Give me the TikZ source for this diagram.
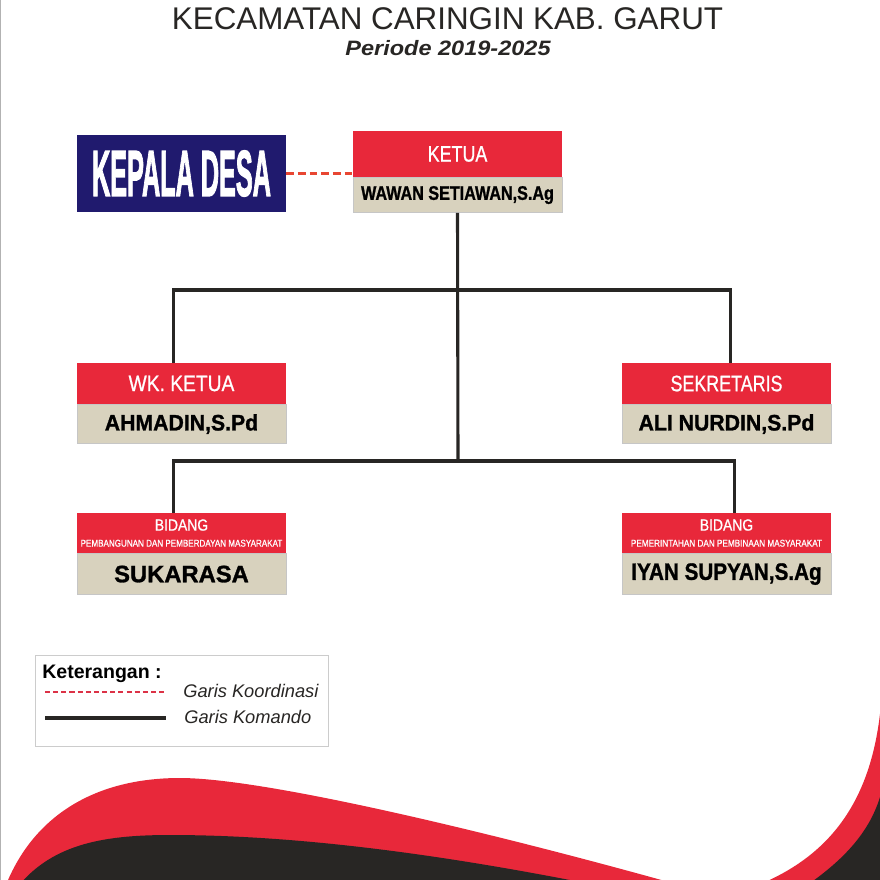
\documentclass[tikz,border=0pt]{standalone}
\usepackage{graphicx}
\usepackage{fontspec}
\setmainfont{Liberation Sans}
\newfontfamily\tebal{Liberation Sans}[BoldFeatures={FakeBold=2.5}]
\newfontfamily\berat{Liberation Sans}[BoldFeatures={FakeBold=1.2}]
\newfontfamily\sedang{Liberation Sans}[FakeBold=0.9]
\usetikzlibrary{positioning}

\definecolor{merah}{HTML}{E8283A}
\definecolor{krem}{HTML}{D8D2BE}
\definecolor{biru}{HTML}{201A6E}
\definecolor{hitam}{HTML}{282624}
\definecolor{oranye}{HTML}{E84632}
\definecolor{garis}{HTML}{DC3246}

\newcommand\cond[2][0.84]{\scalebox{#1}[1]{#2}}

\tikzset{
  jabatan/.style={fill=merah, text=white, minimum width=5.225cm, minimum height=1.025cm, inner sep=0pt,
    font=\fontsize{15.9}{18}\selectfont\sedang},
  nama/.style={fill=krem, draw=gray!45, line width=0.4pt, minimum width=5.225cm, minimum height=0.975cm, inner sep=0pt,
    font=\fontsize{15.9}{18}\selectfont\berat\bfseries, text=black},
  komando/.style={draw=hitam, line width=2.2pt},
  koordinasi/.style={draw=oranye, line width=2.2pt, dash pattern=on 5.5pt off 2.8pt},
}

\begin{document}
\begin{tikzpicture}[x=0.025cm, y=-0.025cm]
\useasboundingbox (0,0) rectangle (880,880);
\fill[white] (0,0) rectangle (880,880);
\draw[gray!60, line width=0.8pt] (0.5,0) -- (0.5,880);

% judul
\node[anchor=base, font=\fontsize{22.3}{24}\selectfont, text=hitam] (judul) at (447.5,29.5) {KECAMATAN CARINGIN KAB. GARUT};
\node[anchor=base, font=\fontsize{14.8}{16}\selectfont\bfseries\itshape, text=hitam] (periode) at (448,55.5) {\cond[1.13]{Periode 2019-2025}};

% kotak
\node[fill=biru, text=white, minimum width=5.225cm, minimum height=1.925cm, inner sep=0pt,
  font=\fontsize{46}{50}\selectfont\tebal\bfseries] (kades) at (181.5,173.5) {\cond[0.39]{KEPALA DESA}};

\node[jabatan, minimum height=1.15cm] (ketuaJab) at (457.5,154) {\cond[0.8]{KETUA}};
\node[nama, minimum height=0.875cm, below=0pt of ketuaJab, font=\fontsize{14}{16}\selectfont\berat\bfseries] (ketuaNama) {\cond[0.82]{WAWAN SETIAWAN,S.Ag}};

\node[jabatan] (wakilJab) at (181.5,383.5) {\cond[0.86]{WK. KETUA}};
\node[nama, below=0pt of wakilJab] (wakilNama) {\cond[0.95]{AHMADIN,S.Pd}};

\node[jabatan] (sekJab) at (726.5,383.5) {\cond[0.8]{SEKRETARIS}};
\node[nama, below=0pt of sekJab] (sekNama) {\cond[0.95]{ALI NURDIN,S.Pd}};

\node[jabatan, minimum height=1cm, align=center, font=\fontsize{7}{11.4}\selectfont\sedang] (bid1Jab) at (181.5,533)
  {\cond[0.86]{\fontsize{11.5}{12}\selectfont BIDANG}\\\cond[0.82]{PEMBANGUNAN DAN PEMBERDAYAN MASYARAKAT}};
\node[nama, minimum height=1.025cm, below=0pt of bid1Jab, font=\fontsize{16.9}{19}\selectfont\berat\bfseries] (bid1Nama) {SUKARASA};

\node[jabatan, minimum height=1cm, align=center, font=\fontsize{7}{11.4}\selectfont\sedang] (bid2Jab) at (726.5,533)
  {\cond[0.86]{\fontsize{11.5}{12}\selectfont BIDANG}\\\cond[0.83]{PEMERINTAHAN DAN PEMBINAAN MASYARAKAT}};
\node[nama, minimum height=1.025cm, below=0pt of bid2Jab, font=\fontsize{16.9}{19}\selectfont\berat\bfseries] (bid2Nama) {\cond[0.87]{IYAN SUPYAN,S.Ag}};

% garis
\coordinate (cabang1) at (458,290);
\coordinate (cabang2) at (458,461);
\draw[komando] (ketuaNama.south) -- (cabang2);
\draw[komando] ([xshift=-0.19cm]wakilJab.north) |- (cabang1) -| ([xshift=0.11cm]sekJab.north);
\draw[komando] ([xshift=-0.21cm]bid1Jab.north) |- (cabang2) -| ([xshift=0.21cm]bid2Jab.north);
\draw[koordinasi] (kades.east) -- (kades.east -| ketuaJab.west);

% keterangan
\draw[gray!40, line width=0.6pt] (35,655) rectangle (328,746);
\node[anchor=base west, inner sep=0pt, font=\fontsize{13.9}{16}\selectfont\bfseries] (ket) at (42,678) {Keterangan :};
\coordinate (k1a) at (45,692); \coordinate (k1b) at (166,692);
\coordinate (k2a) at (45,718); \coordinate (k2b) at (166,718);
\draw[garis, line width=1.6pt, dash pattern=on 3.6pt off 2.2pt] (k1a) -- (k1b);
\draw[hitam, line width=2.2pt] (k2a) -- (k2b);
\node[anchor=base west, inner sep=0pt, font=\fontsize{13}{15}\selectfont\itshape, text=hitam] (lkoord) at (183,697) {Garis Koordinasi};
\node[anchor=base west, inner sep=0pt, font=\fontsize{13}{15}\selectfont\itshape, text=hitam] (lkomando) at (184,723) {Garis Komando};

% gelombang bawah
\begin{scope}
\clip (0,0) rectangle (880,880);
\fill[merah] (4,890) .. controls (30,820) and (90,778) .. (180,778)
  .. controls (270,778) and (520,840) .. (690,888) -- (745,890)
  .. controls (830,860) and (876,800) .. (882,690) -- (885,905) -- (0,905) -- cycle;
\fill[hitam] (15,890) .. controls (50,845) and (100,835) .. (170,835)
  .. controls (300,835) and (450,855) .. (620,890) -- (800,890)
  .. controls (845,860) and (872,830) .. (882,790) -- (885,905) -- (0,905) -- cycle;
\end{scope}
\end{tikzpicture}
\end{document}
